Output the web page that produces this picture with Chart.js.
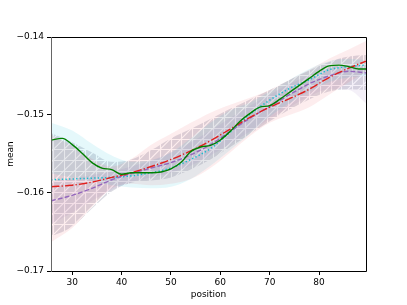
<!DOCTYPE html>
<html>
<head>
<meta charset="utf-8">
<script src="https://cdn.jsdelivr.net/npm/chart.js@4.4.1/dist/chart.umd.min.js"></script>
<style>
  html, body { margin: 0; padding: 0; background: #fff; }
</style>
</head>
<body>
<canvas id="meanChart" width="407" height="305"></canvas>
<script>
// tick labels
const xTicks = [30, 40, 50, 60, 70, 80];
const yTicks = [-0.17, -0.16, -0.15, -0.14];

// green solid line, sampled every 2 units
const finePos = [25.7, 28, 30, 32, 34, 36, 38, 40, 42, 44, 46, 48, 50, 52, 54, 56, 58, 60,
                 62, 64, 66, 68, 70, 72, 74, 76, 78, 80, 82, 84, 86, 88, 89.5];
const greenMean = [-0.1532, -0.1530, -0.1538, -0.1549, -0.1561, -0.1568, -0.1570, -0.1576, -0.1574, -0.1574,
                   -0.1574, -0.1573, -0.1569, -0.1561, -0.1547, -0.1541, -0.1539, -0.1532, -0.1521, -0.1508,
                   -0.1498, -0.1490, -0.1488, -0.1480, -0.1471, -0.1462, -0.1453, -0.1444, -0.1437, -0.1436,
                   -0.1438, -0.1441, -0.1441];

// smoother curves and bands, sampled every 4 units
const coarsePos = [25.7, 30, 34, 38, 42, 46, 50, 54, 58, 62, 66, 70, 74, 78, 82, 86, 89.5];
const redMean    = [-0.1592, -0.1590, -0.1586, -0.1580, -0.1574, -0.1566, -0.1557, -0.1546, -0.1533, -0.1518, -0.1503, -0.1490, -0.1479, -0.1467, -0.1452, -0.1440, -0.1431];
const purpleMean = [-0.1610, -0.1603, -0.1594, -0.1583, -0.1575, -0.1568, -0.1561, -0.1551, -0.1538, -0.1521, -0.1504, -0.1489, -0.1474, -0.1460, -0.1450, -0.1444, -0.1446];
const cyanMean   = [-0.1583, -0.1582, -0.1581, -0.1580, -0.1578, -0.1574, -0.1568, -0.1557, -0.1543, -0.1522, -0.1499, -0.1481, -0.1466, -0.1455, -0.1442, -0.1438, -0.1436];

const grayUpper   = [-0.1523, -0.1535, -0.1548, -0.1560, -0.1557, -0.1545, -0.1530, -0.1518, -0.1505, -0.1492, -0.1480, -0.1468, -0.1455, -0.1443, -0.1432, -0.1425, -0.1423];
const grayLower   = [-0.1656, -0.1643, -0.1620, -0.1598, -0.1587, -0.1584, -0.1580, -0.1570, -0.1557, -0.1541, -0.1524, -0.1508, -0.1493, -0.1480, -0.1470, -0.1467, -0.1468];
const pinkUpper   = [-0.1525, -0.1540, -0.1556, -0.1566, -0.1556, -0.1538, -0.1524, -0.1510, -0.1497, -0.1487, -0.1478, -0.1468, -0.1455, -0.1442, -0.1428, -0.1416, -0.1405];
const pinkLower   = [-0.1663, -0.1645, -0.1618, -0.1594, -0.1588, -0.1590, -0.1588, -0.1582, -0.1568, -0.1548, -0.1527, -0.1510, -0.1500, -0.1490, -0.1474, -0.1458, -0.1445];
const cyanUpper   = [-0.1510, -0.1520, -0.1537, -0.1552, -0.1560, -0.1558, -0.1548, -0.1530, -0.1510, -0.1494, -0.1484, -0.1470, -0.1455, -0.1441, -0.1431, -0.1428, -0.1430];
const cyanLower   = [-0.1575, -0.1580, -0.1585, -0.1590, -0.1593, -0.1594, -0.1592, -0.1582, -0.1565, -0.1545, -0.1524, -0.1502, -0.1485, -0.1470, -0.1458, -0.1452, -0.1450];
const purpleUpper = [-0.1585, -0.1582, -0.1577, -0.1572, -0.1566, -0.1558, -0.1548, -0.1535, -0.1520, -0.1504, -0.1488, -0.1474, -0.1460, -0.1449, -0.1440, -0.1436, -0.1440];
const purpleLower = [-0.1640, -0.1625, -0.1610, -0.1596, -0.1586, -0.1580, -0.1574, -0.1565, -0.1552, -0.1537, -0.1521, -0.1505, -0.1490, -0.1476, -0.1467, -0.1468, -0.1485];

const pts = (xs, ys) => xs.map((x, i) => ({ x: x, y: ys[i] }));

// gray face with white triangle hatch
function hatchPattern() {
    const size = 64, n = 6, step = size / n;
    const c = document.createElement('canvas');
    c.width = size; c.height = size;
    const g = c.getContext('2d');
    g.fillStyle = 'rgba(125,125,150,0.28)';
    g.fillRect(0, 0, size, size);
    g.strokeStyle = '#ffffff';
    g.lineWidth = 1.1;
    g.beginPath();
    for (let i = 0; i < n; i++) {
        const p = Math.round(i * step) + 0.5;
        g.moveTo(0, p); g.lineTo(size, p);
        g.moveTo(p, 0); g.lineTo(p, size);
    }
    for (let i = -n; i <= n; i++) {
        const o = i * step;
        g.moveTo(o, size); g.lineTo(o + size, 0);
    }
    g.stroke();
    return g.createPattern(c, 'repeat');
}

function line(label, ys, xs, color, dash, width) {
    return {
        label: label,
        data: pts(xs, ys),
        borderColor: color,
        borderWidth: width,
        borderDash: dash,
        borderCapStyle: 'butt',
        pointRadius: 0,
        fill: false,
        cubicInterpolationMode: 'monotone'
    };
}

function band(upper, lower, color) {
    return [{
        data: pts(coarsePos, upper),
        borderWidth: 0,
        pointRadius: 0,
        backgroundColor: color,
        fill: '+1',
        cubicInterpolationMode: 'monotone'
    }, {
        data: pts(coarsePos, lower),
        borderWidth: 0,
        pointRadius: 0,
        fill: false,
        cubicInterpolationMode: 'monotone'
    }];
}

const framePlugin = {
    id: 'frame',
    afterDraw(chart) {
        const a = chart.chartArea, ctx = chart.ctx;
        ctx.save();
        ctx.lineWidth = 1;
        ctx.strokeStyle = '#000';
        ctx.beginPath();
        ctx.moveTo(a.left, a.top + 0.5); ctx.lineTo(a.right + 0.5, a.top + 0.5);
        ctx.lineTo(a.right + 0.5, a.bottom + 0.5); ctx.lineTo(a.left, a.bottom + 0.5);
        ctx.stroke();
        ctx.strokeStyle = '#666';
        ctx.beginPath();
        ctx.moveTo(a.left + 0.5, a.top); ctx.lineTo(a.left + 0.5, a.bottom + 1);
        ctx.stroke();
        ctx.restore();
    }
};

const tickFont = { family: 'DejaVu Sans', size: 9 };
const minus = v => (v < 0 ? '\u2212' : '') + Math.abs(v);

new Chart(document.getElementById('meanChart'), {
    type: 'line',
    data: {
        datasets: [
            line('mean', greenMean, finePos, '#008000', [], 1.4),
            line('red', redMean, coarsePos, '#e0201e', [8.5, 2.1, 1.3, 2.1], 1.4),
            line('purple', purpleMean, coarsePos, '#9467bd', [4.9, 2.1], 1.4),
            line('cyan', cyanMean, coarsePos, '#17becf', [1.4, 2.2], 1.5),
            ...band(pinkUpper, pinkLower, 'rgba(230,60,70,0.09)'),
            ...band(cyanUpper, cyanLower, 'rgba(40,200,220,0.12)'),
            ...band(purpleUpper, purpleLower, 'rgba(148,103,189,0.1)'),
            ...band(grayUpper, grayLower, hatchPattern())
        ]
    },
    options: {
        responsive: false,
        animation: false,
        devicePixelRatio: 1,
        layout: { padding: { top: 37, right: 41, left: 0, bottom: 0 } },
        plugins: { legend: { display: false }, tooltip: { enabled: false } },
        scales: {
            x: {
                type: 'linear',
                min: 25.7,
                max: 89.5,
                afterBuildTicks: s => { s.ticks = xTicks.map(v => ({ value: v })); },
                afterFit: s => { s.height = 34; },
                grid: { drawOnChartArea: false, drawTicks: true, tickLength: 4, color: '#000' },
                border: { display: false },
                ticks: { font: tickFont, color: '#000', padding: 2, maxRotation: 0, callback: v => String(v) },
                title: { display: true, text: 'position', font: tickFont, color: '#000', padding: { top: 2, bottom: 5 } }
            },
            y: {
                min: -0.17,
                max: -0.14,
                afterBuildTicks: s => { s.ticks = yTicks.map(v => ({ value: v })); },
                afterFit: s => { s.width = 51; },
                grid: { drawOnChartArea: false, drawTicks: true, tickLength: 4, color: '#000' },
                border: { display: false },
                ticks: { font: tickFont, color: '#000', padding: 3, callback: v => minus(Number(v.toFixed(2))) },
                title: { display: true, text: 'mean', font: tickFont, color: '#000', padding: { top: 5, bottom: 2 } }
            }
        }
    },
    plugins: [framePlugin]
});
</script>
</body>
</html>
